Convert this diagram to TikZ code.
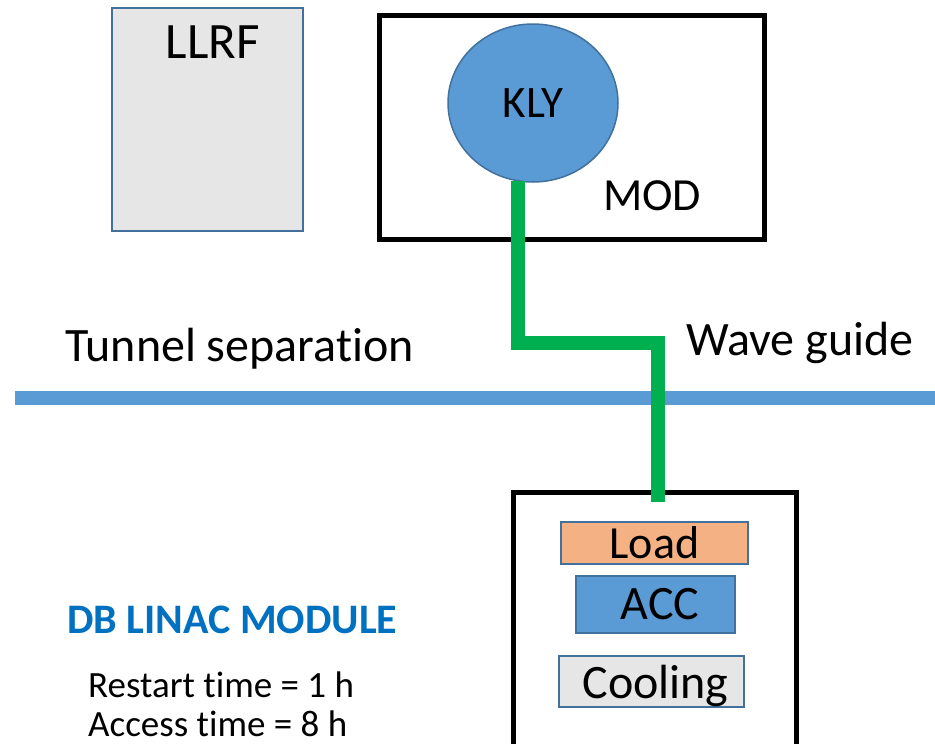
\documentclass[tikz,border=0pt]{standalone}
\usepackage{fontspec}
\setmainfont{Carlito}[Ligatures=NoCommon]
\usetikzlibrary{shapes.geometric}
\definecolor{accblue}{HTML}{5B9BD5}
\definecolor{edgeblue}{HTML}{41719C}
\definecolor{loadorange}{HTML}{F4B183}
\definecolor{boxgray}{HTML}{E6E6E6}
\definecolor{guidegreen}{HTML}{00B050}
\definecolor{titleblue}{HTML}{0070C0}
\newcommand{\fs}[1]{\fontsize{#1}{#1}\selectfont}

\begin{document}
\begin{tikzpicture}[x=1pt, y=-1pt,
                part/.style={draw=edgeblue, line width=1.5pt, inner sep=0pt, font=\fs{46}},
                hall/.style={draw=black, line width=5pt, inner sep=0pt},
                label/.style={anchor=base west, inner sep=0pt}]
                \clip (0,0) rectangle (935,744);
                % surface side
                \node[part, fill=boxgray, minimum width=191pt, minimum height=223pt, anchor=north west] (llrf) at (111,7) {};
                \node[anchor=base, inner sep=0pt, font=\fs{51}] (llrftext) at (213,58) {LLRF};
                \node[hall, minimum width=385pt, minimum height=224pt, anchor=north west] (mod) at (377,13) {};
                \node[label, font=\fs{46}] (modtext) at (603,210) {MOD};
                \node[part, ellipse, fill=accblue, minimum width=170pt, minimum height=158pt, font=\fs{45}] (kly) at (533,103) {KLY};
                % tunnel separation
                \coordinate (sepL) at (15,398);
                \coordinate (sepR) at (940,398);
                \draw[accblue, line width=14pt] (sepL) -- (sepR);
                \node[label, font=\fs{48}] (septext) at (65,361) {Tunnel separation};
                \node[label, font=\fs{48}] (wgtext) at (686,355) {Wave guide};
                % tunnel side
                \node[hall, minimum width=283pt, minimum height=300pt, anchor=north west] (module) at (511,490) {};
                \node[part, fill=loadorange, minimum width=187pt, minimum height=42pt] (load) at (654.5,543) {Load};
                \node[part, fill=accblue, minimum width=159pt, minimum height=57pt, font=\fs{48}] (acc) at (655.5,604.5) {\hspace*{9pt}ACC};
                \node[part, fill=boxgray, minimum width=185pt, minimum height=51pt, text height=33pt, text depth=0pt, font=\fs{48}] (cool) at (651.5,681.5) {\hspace*{8pt}Cooling};
                \node[label, font=\bfseries\fs{42}, text=titleblue] (title) at (67,633) {DB LINAC MODULE};
                \node[label, font=\fs{37}] (restart) at (88,697) {Restart time = 1 h};
                \node[label, font=\fs{37}] (access) at (88,736) {Access time = 8 h};
                % wave guide
                \coordinate (bend) at (658,343);
                \coordinate (wgend) at (658,502);
                \draw[guidegreen, line width=14pt] (kly.259) |- (bend) -- (wgend);
            \end{tikzpicture}
\end{document}
